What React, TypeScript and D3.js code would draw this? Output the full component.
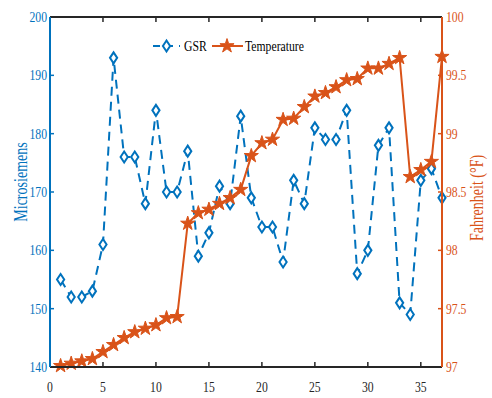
import React from "react";
import * as d3 from "d3";

const xs: number[] = Array.from({ length: 37 }, (_, i) => i + 1);
const gsr: number[] = [155, 152, 152, 153, 161, 193, 176, 176, 168, 184, 170, 170, 177, 159, 163, 171, 168, 183, 169, 164, 164, 158, 172, 168, 181, 179, 179, 184, 156, 160, 178, 181, 151, 149, 172, 174, 169];
const temperature: number[] = [97.01, 97.03, 97.05, 97.07, 97.13, 97.19, 97.25, 97.3, 97.33, 97.36, 97.42, 97.43, 98.23, 98.32, 98.35, 98.4, 98.45, 98.52, 98.81, 98.92, 98.95, 99.12, 99.13, 99.23, 99.32, 99.35, 99.4, 99.46, 99.47, 99.56, 99.56, 99.6, 99.65, 98.63, 98.69, 98.76, 99.66];
const xTicks: number[] = [0, 5, 10, 15, 20, 25, 30, 35];
const leftTicks: number[] = [140, 150, 160, 170, 180, 190, 200];
const rightTicks: number[] = [97, 97.5, 98, 98.5, 99, 99.5, 100];
const seriesNames: string[] = ["GSR", "Temperature"];

const BLUE = "#0072BD";
const ORANGE = "#D95319";
const DARK = "#262626";
const FONT = "'Liberation Serif', 'DejaVu Serif', serif";
const SX = 0.78;

const L = 50, R = 442, T = 17, B = 367;

const x = d3.scaleLinear().domain([0, 37]).range([L, R]);
const yL = d3.scaleLinear().domain([140, 200]).range([B, T]);
const yR = d3.scaleLinear().domain([97, 100]).range([B, T]);

const diamond = (cx: number, cy: number) =>
  `M${cx},${cy - 5.5}L${cx + 3.6},${cy}L${cx},${cy + 5.5}L${cx - 3.6},${cy}Z`;
const star = d3.symbol().type(d3.symbolStar).size(62);

function T_({ x: tx, y: ty, anchor, fill, size, children, rotate }: any) {
  return (
    <text
      transform={`translate(${tx},${ty})${rotate ? ` rotate(${rotate})` : ""} scale(${SX},1)`}
      textAnchor={anchor}
      fill={fill}
      fontSize={size}
      fontFamily={FONT}
    >
      {children}
    </text>
  );
}

export default function App() {
  const gsrLine = d3.line<number>().x((_, i) => x(xs[i])).y((d) => yL(d))(gsr) as string;
  const tLine = d3.line<number>().x((_, i) => x(xs[i])).y((d) => yR(d))(temperature) as string;

  return (
    <svg width={492} height={398} style={{ position: "absolute", left: 0, top: 0, background: "#fff" }}>
      <rect x={0} y={0} width={492} height={398} fill="#fff" />
      {/* x ticks */}
      {xTicks.filter((t) => t > 0).map((t) => (
        <g key={"xt" + t}>
          <line x1={x(t)} x2={x(t)} y1={B} y2={B - 5} stroke={DARK} strokeWidth={1.5} />
          <line x1={x(t)} x2={x(t)} y1={T} y2={T + 5} stroke={DARK} strokeWidth={1.5} />
        </g>
      ))}
      {xTicks.map((t) => (
        <T_ key={"xl" + t} x={x(t)} y={392} anchor="middle" fill={DARK} size={15}>
          {String(t)}
        </T_>
      ))}
      {/* left ticks */}
      {leftTicks.map((t) => (
        <g key={"lt" + t}>
          <line x1={L} x2={L + 4} y1={yL(t)} y2={yL(t)} stroke={BLUE} strokeWidth={1.5} />
          <T_ x={47} y={yL(t) + 5} anchor="end" fill={BLUE} size={15}>
            {String(t)}
          </T_>
        </g>
      ))}
      {/* right ticks */}
      {rightTicks.map((t) => (
        <g key={"rt" + t}>
          <line x1={R} x2={R - 4} y1={yR(t)} y2={yR(t)} stroke={ORANGE} strokeWidth={1.5} />
          <T_ x={446} y={yR(t) + 5} anchor="start" fill={ORANGE} size={15}>
            {String(t)}
          </T_>
        </g>
      ))}
      {/* axis labels */}
      <T_ x={27} y={182} anchor="middle" fill={BLUE} size={18} rotate={-90}>
        Microsiemens
      </T_>
      <T_ x={483} y={198} anchor="middle" fill={ORANGE} size={18} rotate={-90}>
        Fahrenheit (°F)
      </T_>

      {/* GSR series */}
      <path d={gsrLine} fill="none" stroke={BLUE} strokeWidth={2} strokeDasharray="9,6" />
      {gsr.map((v, i) => (
        <path key={"g" + i} d={diamond(x(xs[i]), yL(v))} fill="#fff" stroke={BLUE} strokeWidth={2} />
      ))}
      {/* Temperature series */}
      <path d={tLine} fill="none" stroke={ORANGE} strokeWidth={2} />
      {temperature.map((v, i) => (
        <path key={"t" + i} d={star() as string} transform={`translate(${x(xs[i])},${yR(v)})`} fill={ORANGE} stroke={ORANGE} strokeWidth={1} />
      ))}

      {/* frame */}
      <line x1={L} x2={R} y1={T} y2={T} stroke={DARK} strokeWidth={2} />
      <line x1={L} x2={R} y1={B} y2={B} stroke={DARK} strokeWidth={2} />
      <line x1={L} x2={L} y1={T} y2={B} stroke={BLUE} strokeWidth={2} />
      <line x1={R} x2={R} y1={T} y2={B} stroke={ORANGE} strokeWidth={2} />

      {/* legend */}
      <line x1={153} x2={180} y1={46} y2={46} stroke={BLUE} strokeWidth={2} strokeDasharray="7,6" />
      <path d={diamond(166.5, 46)} fill="#fff" stroke={BLUE} strokeWidth={2} />
      <T_ x={184} y={51} anchor="start" fill="#000" size={15}>
        {seriesNames[0]}
      </T_>
      <line x1={212} x2={243} y1={46} y2={46} stroke={ORANGE} strokeWidth={2} />
      <path d={star() as string} transform="translate(227,46)" fill={ORANGE} stroke={ORANGE} strokeWidth={1} />
      <T_ x={245} y={51} anchor="start" fill="#000" size={15}>
        {seriesNames[1]}
      </T_>
    </svg>
  );
}
